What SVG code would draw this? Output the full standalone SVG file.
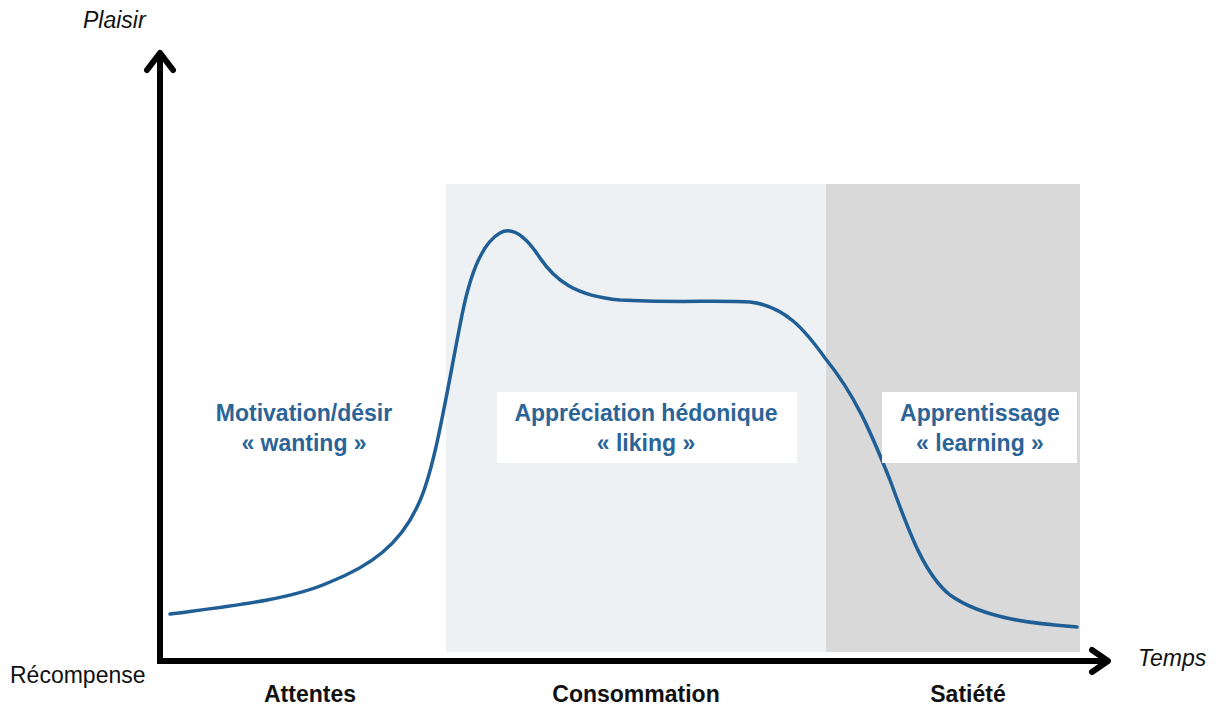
<svg xmlns="http://www.w3.org/2000/svg" width="1221" height="706" viewBox="0 0 1221 706">
<style>
.lbl{font-family:"Liberation Sans",Arial,sans-serif;font-size:23px;font-weight:bold;fill:#2b6496;text-anchor:middle}
.ax{font-family:"Liberation Sans",Arial,sans-serif;font-size:23px;fill:#111}
.ph{font-family:"Liberation Sans",Arial,sans-serif;font-size:23px;font-weight:bold;fill:#111;text-anchor:middle}
.axis{stroke:#000;stroke-width:6;fill:none}
.head{stroke:#000;stroke-width:6;fill:none;stroke-linecap:round;stroke-linejoin:round}
</style>
<rect width="1221" height="706" fill="#fff"/>
<g id="panels">
<rect x="446" y="184" width="380" height="468" fill="#eef1f3"/>
<rect x="826" y="184" width="254" height="468" fill="#d9d9d9"/>
</g>
<g id="curve">
<path d="M170,614 C230,606 290,600 330,582 C370,566 400,545 418,505 C435,470 447,390 462,315 C470,275 482,243 500,233 C512,226 525,235 540,258 C555,280 575,296 620,300 C670,303 720,300 750,302 C785,306 805,330 825,358 C855,395 870,430 890,480 C910,535 925,575 950,595 C985,620 1040,624 1077,627" fill="none" stroke="#1f5f96" stroke-width="3.5" stroke-linecap="round"/>
</g>
<g id="axes">
<path class="axis" d="M160,52 V661 H1108"/>
<path class="head" d="M147,70 L160,53 L173,70"/>
<path class="head" d="M1092,650 L1108,661 L1092,672"/>
</g>
<g id="label-wanting">
<text class="lbl" x="304" y="421">Motivation/désir</text>
<text class="lbl" x="304" y="451">« wanting »</text>
</g>
<g id="label-liking">
<rect x="497" y="392" width="300" height="71" fill="#fff"/>
<text class="lbl" x="646" y="421">Appréciation hédonique</text>
<text class="lbl" x="646" y="451">« liking »</text>
</g>
<g id="label-learning">
<rect x="882" y="392" width="195" height="71" fill="#fff"/>
<text class="lbl" x="980" y="421">Apprentissage</text>
<text class="lbl" x="980" y="451">« learning »</text>
</g>
<g id="axis-labels">
<text class="ax" x="83" y="28" font-style="italic">Plaisir</text>
<text class="ax" x="10" y="683">Récompense</text>
<text class="ax" x="1138" y="666" font-style="italic">Temps</text>
</g>
<g id="phases">
<text class="ph" x="310" y="702">Attentes</text>
<text class="ph" x="636" y="702">Consommation</text>
<text class="ph" x="968" y="702">Satiété</text>
</g>
</svg>
